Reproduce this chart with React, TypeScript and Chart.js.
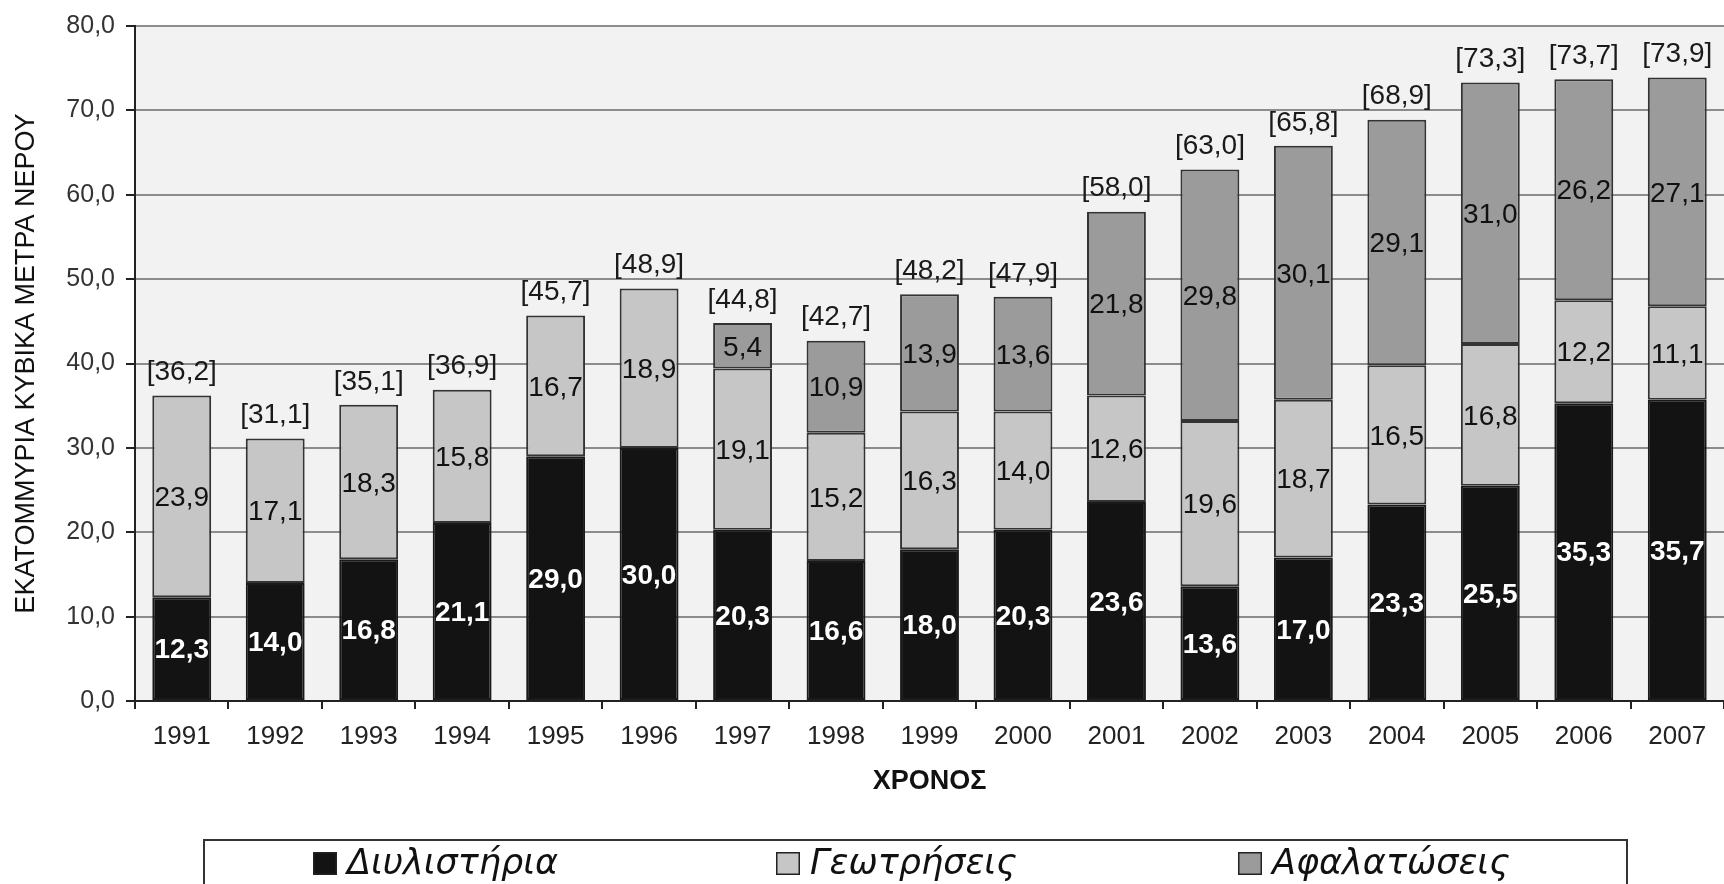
import React, { useEffect, useRef } from 'react';
import { Chart, registerables } from 'chart.js';

Chart.register(...registerables);

const years = ['1991', '1992', '1993', '1994', '1995', '1996', '1997', '1998', '1999', '2000', '2001', '2002', '2003', '2004', '2005', '2006', '2007'];
const refineries = [12.3, 14.0, 16.8, 21.1, 29.0, 30.0, 20.3, 16.6, 18.0, 20.3, 23.6, 13.6, 17.0, 23.3, 25.5, 35.3, 35.7];
const boreholes = [23.9, 17.1, 18.3, 15.8, 16.7, 18.9, 19.1, 15.2, 16.3, 14.0, 12.6, 19.6, 18.7, 16.5, 16.8, 12.2, 11.1];
const desalination = [null, null, null, null, null, null, 5.4, 10.9, 13.9, 13.6, 21.8, 29.8, 30.1, 29.1, 31.0, 26.2, 27.1];
const totals = [36.2, 31.1, 35.1, 36.9, 45.7, 48.9, 44.8, 42.7, 48.2, 47.9, 58.0, 63.0, 65.8, 68.9, 73.3, 73.7, 73.9];
const seriesNames = ['Διυλιστήρια', 'Γεωτρήσεις', 'Αφαλατώσεις'];
const seriesColors = ['#131313', '#c6c6c6', '#9b9b9b'];
const yAxisTitle = 'ΕΚΑΤΟΜΜΥΡΙΑ ΚΥΒΙΚΑ ΜΕΤΡΑ ΝΕΡΟΥ';
const xAxisTitle = 'ΧΡΟΝΟΣ';

const FONT = "'Liberation Sans', Arial, sans-serif";
const fmt = (v: number) => v.toFixed(1).replace('.', ',');

const bgPlugin = {
  id: 'plotBg',
  beforeDraw(chart: any) {
    const { ctx, chartArea } = chart;
    ctx.save();
    ctx.fillStyle = '#f2f2f2';
    ctx.fillRect(chartArea.left, chartArea.top, chartArea.right - chartArea.left, chartArea.bottom - chartArea.top);
    ctx.restore();
  },
};

const labelPlugin = {
  id: 'valueLabels',
  afterDatasetsDraw(chart: any) {
    const { ctx } = chart;
    ctx.save();
    ctx.textAlign = 'center';
    ctx.textBaseline = 'middle';
    chart.data.datasets.forEach((ds: any, di: number) => {
      const meta = chart.getDatasetMeta(di);
      meta.data.forEach((el: any, i: number) => {
        const v = ds.data[i];
        if (v === null || v === undefined) return;
        const cy = (el.y + el.base) / 2;
        if (di === 0) {
          ctx.fillStyle = '#ffffff';
          ctx.font = `bold 28px ${FONT}`;
        } else {
          ctx.fillStyle = '#111111';
          ctx.font = `28px ${FONT}`;
        }
        ctx.fillText(fmt(v), el.x, cy + 2);
      });
    });
    const yScale = chart.scales.y;
    const meta0 = chart.getDatasetMeta(0);
    ctx.fillStyle = '#1a1a1a';
    ctx.font = `28px ${FONT}`;
    totals.forEach((t, i) => {
      const x = meta0.data[i].x;
      const y = yScale.getPixelForValue(t) - 23;
      ctx.fillText('[' + fmt(t) + ']', x, y);
    });
    ctx.restore();
  },
};

const legendPlugin = {
  id: 'boxLegend',
  afterDraw(chart: any) {
    const { ctx } = chart;
    ctx.save();
    ctx.strokeStyle = '#333333';
    ctx.lineWidth = 2;
    ctx.strokeRect(204, 840, 1627 - 204, 120);
    const xs = [313, 776, 1238];
    ctx.textAlign = 'left';
    ctx.textBaseline = 'middle';
    ctx.font = `italic 35px 'DejaVu Sans', sans-serif`;
    seriesNames.forEach((name, i) => {
      ctx.fillStyle = seriesColors[i];
      ctx.fillRect(xs[i], 852, 24, 23);
      ctx.strokeStyle = '#222';
      ctx.lineWidth = 1.5;
      ctx.strokeRect(xs[i] + 0.75, 852.75, 22.5, 21.5);
      ctx.fillStyle = '#111';
      ctx.fillText(name, xs[i] + 34, 865);
    });
    ctx.restore();
  },
};

export default function App() {
  const ref = useRef<HTMLCanvasElement>(null);
  useEffect(() => {
    document.body.style.margin = '0';
    document.body.style.overflow = 'hidden';
    const chart = new Chart(ref.current as HTMLCanvasElement, {
      type: 'bar',
      data: {
        labels: years,
        datasets: [
          { label: seriesNames[0], data: refineries, backgroundColor: seriesColors[0], borderColor: '#1a1a1a', borderWidth: 2, borderSkipped: false },
          { label: seriesNames[1], data: boreholes, backgroundColor: seriesColors[1], borderColor: '#333333', borderWidth: 2, borderSkipped: false },
          { label: seriesNames[2], data: desalination as any, backgroundColor: seriesColors[2], borderColor: '#333333', borderWidth: 2, borderSkipped: false },
        ],
      },
      options: {
        animation: false,
        responsive: false,
        datasets: { bar: { barPercentage: 0.63, categoryPercentage: 1 } },
        layout: { padding: { left: 0, right: 0, top: 21, bottom: 86 } },
        plugins: { legend: { display: false }, tooltip: { enabled: false } },
        scales: {
          x: {
            stacked: true,
            grid: { display: true, drawOnChartArea: false, offset: true, tickLength: 8, color: '#222', lineWidth: 2 },
            border: { color: '#222', width: 2 },
            ticks: { color: '#222', font: { size: 26, family: FONT }, padding: 12, maxRotation: 0, autoSkip: false },
            title: { display: true, text: xAxisTitle, color: '#111', font: { size: 27, weight: 'bold', family: FONT }, padding: 0 },
            afterFit: (s: any) => { s.height = 97; },
          },
          y: {
            stacked: true,
            min: 0,
            max: 80,
            ticks: { stepSize: 10, color: '#333', padding: 11, font: { size: 25, family: FONT }, callback: (v: any) => fmt(Number(v)) },
            grid: { color: '#8c8c8c', lineWidth: 2, tickLength: 9, tickColor: '#222' },
            border: { color: '#222', width: 2 },
            title: { display: true, text: yAxisTitle, color: '#111', font: { size: 27, family: FONT }, padding: { top: 10, bottom: 0 } },
            afterFit: (s: any) => { s.width = 135; },
          },
        },
      },
      plugins: [bgPlugin, labelPlugin, legendPlugin],
    });
    return () => chart.destroy();
  }, []);
  return (
    <div style={{ width: 1724, height: 884 }}>
      <canvas ref={ref} width={1724} height={884} style={{ display: 'block' }} />
    </div>
  );
}
